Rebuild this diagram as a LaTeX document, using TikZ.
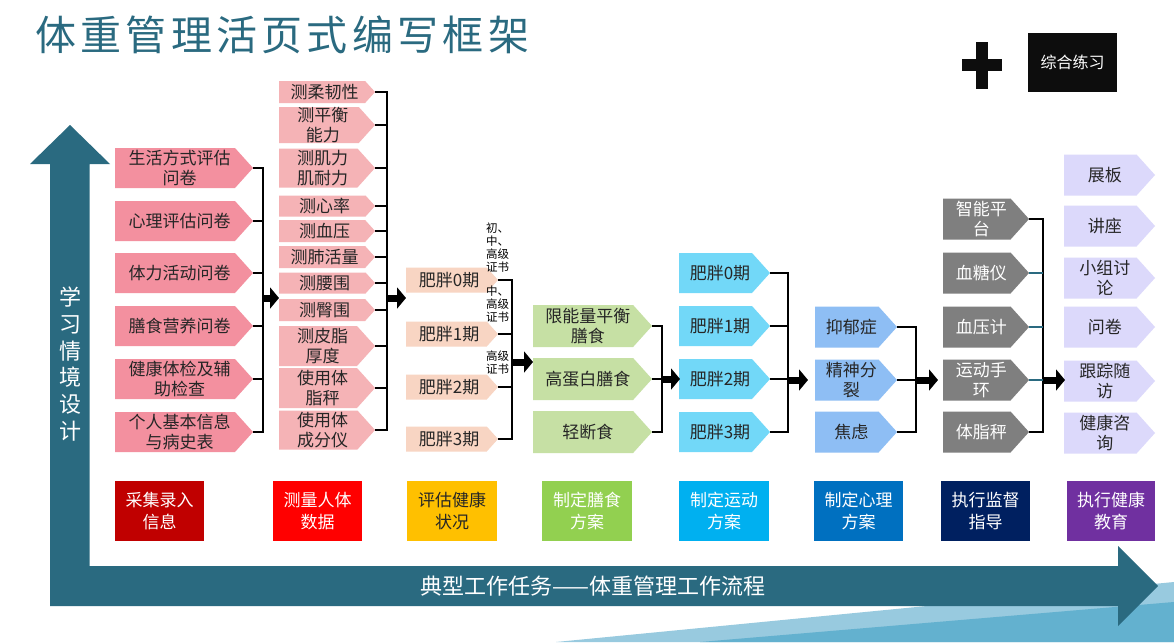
\documentclass[tikz,border=0pt]{standalone}
\usepackage{fontspec}
\setmainfont{Noto Sans CJK SC}
\usetikzlibrary{arrows.meta}
\definecolor{teal1}{HTML}{2A6A80}
\definecolor{ca}{HTML}{F3909F}
\definecolor{cb}{HTML}{F5B3B6}
\definecolor{cc}{HTML}{F8D5C3}
\definecolor{cd}{HTML}{C6E0A4}
\definecolor{ce}{HTML}{72D8F8}
\definecolor{cf}{HTML}{8EBEF4}
\definecolor{cg}{HTML}{7F7F7F}
\definecolor{ch}{HTML}{DCD9FB}
\definecolor{txt}{HTML}{262626}
\definecolor{deco1}{HTML}{98CADF}
\definecolor{deco2}{HTML}{63B1CF}
\definecolor{l1}{HTML}{C00000}
\definecolor{l2}{HTML}{FF0000}
\definecolor{l3}{HTML}{FFC000}
\definecolor{l4}{HTML}{92D050}
\definecolor{l5}{HTML}{00B0F0}
\definecolor{l6}{HTML}{0070C0}
\definecolor{l7}{HTML}{002060}
\definecolor{l8}{HTML}{7030A0}
\newcommand\chev[8]{%
  \pgfmathsetmacro\chvd{#5/2*0.9}%
  \fill[#6] (#2,#4-#5/2) -- (#3-\chvd,#4-#5/2) -- (#3,#4) -- (#3-\chvd,#4+#5/2) -- (#2,#4+#5/2) -- cycle;
  \node[boxtext,text=#7] (#1) at ({(#2+#3-\chvd/2)/2},#4) {#8};
  \coordinate (#1-t) at (#3,#4);
}
\tikzset{
  boxtext/.style={align=center,inner sep=0pt,font=\fontsize{17}{20}\selectfont},
  brk/.style={line width=2.5pt,black,line join=miter},
  barrow/.style={line width=7pt,black,-{Triangle[length=9pt,width=21pt]}},
  lab/.style={align=center,inner sep=0pt,minimum height=60pt,font=\fontsize{17}{22}\selectfont,text=white},
  small/.style={align=left,inner sep=0pt,anchor=north west,font=\fontsize{11.5}{13}\selectfont,text=black}
}
\begin{document}
\begin{tikzpicture}[x=1pt,y=-1pt]
\useasboundingbox (0,0) rectangle (1174,642);
\fill[white] (0,0) rectangle (1174,642);
% decoration bottom right
\fill[deco1] (556,642) -- (1174,582) -- (1174,642) -- cycle;
\fill[deco2] (700,642) -- (1174,602) -- (1174,642) -- cycle;
% title
\node[anchor=west,inner sep=0pt,text=teal1,font=\fontsize{41}{41}\selectfont] (title) at (35,35)
 {体\kern4.3pt 重\kern4.3pt 管\kern4.3pt 理\kern4.3pt 活\kern4.3pt 页\kern4.3pt 式\kern4.3pt 编\kern4.3pt 写\kern4.3pt 框\kern4.3pt 架};
% plus and box
\fill[black!95] (962,59) rectangle (1002,71);
\fill[black!95] (976,42) rectangle (988,89);
\node[fill=black!95,minimum width=89pt,minimum height=59pt,inner sep=0pt,text=white,font=\fontsize{16}{16}\selectfont] (zh) at (1072.5,62.5) {综合练习};
% L arrow
\fill[teal1] (50,606) -- (50,164) -- (30,164) -- (70,125) -- (110,164) -- (89.5,164) -- (89.5,566)
  -- (1118,566) -- (1118,546) -- (1158,586) -- (1118,626) -- (1118,606) -- cycle;
\node[align=center,inner sep=0pt,text=white,font=\fontsize{22}{26.8}\selectfont] (vt) at (70,364) {学\\习\\情\\境\\设\\计};
\node[inner sep=0pt,text=white,font=\fontsize{22}{22}\selectfont] (ht) at (593,586) {典型工作任务——体重管理工作流程};
% column 1
\chev{c1a}{115}{253}{168}{40}{ca}{txt}{生活方式评估\\问卷}
\chev{c1b}{115}{253}{221}{40}{ca}{txt}{心理评估问卷}
\chev{c1c}{115}{253}{273}{40}{ca}{txt}{体力活动问卷}
\chev{c1d}{115}{253}{326}{40}{ca}{txt}{膳食营养问卷}
\chev{c1e}{115}{253}{379}{40}{ca}{txt}{健康体检及辅\\助检查}
\chev{c1f}{115}{253}{432}{40}{ca}{txt}{个人基本信息\\与病史表}
% column 2
\chev{c2a}{279}{375}{92}{22}{cb}{txt}{测柔韧性}
\chev{c2b}{279}{375}{125}{36}{cb}{txt}{测平衡\\能力}
\chev{c2c}{279}{375}{168}{39}{cb}{txt}{测肌力\\肌耐力}
\chev{c2d}{279}{375}{206}{21}{cb}{txt}{测心率}
\chev{c2e}{279}{375}{231}{22}{cb}{txt}{测血压}
\chev{c2f}{279}{375}{257}{22}{cb}{txt}{测肺活量}
\chev{c2g}{279}{375}{283}{21}{cb}{txt}{测腰围}
\chev{c2h}{279}{375}{310}{22}{cb}{txt}{测臀围}
\chev{c2i}{279}{375}{346}{40}{cb}{txt}{测皮脂\\厚度}
\chev{c2j}{279}{375}{388}{40}{cb}{txt}{使用体\\脂秤}
\chev{c2k}{279}{375}{430}{39}{cb}{txt}{使用体\\成分仪}
% column 3
\chev{c3a}{406}{498}{280}{25}{cc}{txt}{肥胖0期}
\chev{c3b}{406}{498}{334}{25}{cc}{txt}{肥胖1期}
\chev{c3c}{406}{498}{387}{25}{cc}{txt}{肥胖2期}
\chev{c3d}{406}{498}{439}{25}{cc}{txt}{肥胖3期}
\node[small] (s1) at (486,223) {初、\\中、\\高级\\证书};
\node[small] (s2) at (486,286) {中、\\高级\\证书};
\node[small] (s3) at (486,351) {高级\\证书};
% column 4
\chev{c4a}{533}{652}{326}{42}{cd}{txt}{限能量平衡\\膳食}
\chev{c4b}{533}{652}{379}{42}{cd}{txt}{高蛋白膳食}
\chev{c4c}{533}{652}{432}{42}{cd}{txt}{轻断食}
% column 5
\chev{c5a}{679}{770}{273}{40}{ce}{txt}{肥胖0期}
\chev{c5b}{679}{770}{326}{40}{ce}{txt}{肥胖1期}
\chev{c5c}{679}{770}{379}{40}{ce}{txt}{肥胖2期}
\chev{c5d}{679}{770}{432}{40}{ce}{txt}{肥胖3期}
% column 6
\chev{c6a}{815}{897}{327}{41}{cf}{txt}{抑郁症}
\chev{c6b}{815}{897}{380}{41}{cf}{txt}{精神分\\裂}
\chev{c6c}{815}{897}{432}{41}{cf}{txt}{焦虑}
% column 7
\chev{c7a}{943}{1029}{219}{41}{cg}{white}{智能平\\台}
\chev{c7b}{943}{1029}{273}{41}{cg}{white}{血糖仪}
\chev{c7c}{943}{1029}{327}{41}{cg}{white}{血压计}
\chev{c7d}{943}{1029}{380}{41}{cg}{white}{运动手\\环}
\chev{c7e}{943}{1029}{432}{41}{cg}{white}{体脂秤}
% column 8
\chev{c8a}{1064}{1155}{175}{41}{ch}{txt}{展板}
\chev{c8b}{1064}{1155}{226}{41}{ch}{txt}{讲座}
\chev{c8c}{1064}{1155}{278}{41}{ch}{txt}{小组讨\\论}
\chev{c8d}{1064}{1155}{327}{41}{ch}{txt}{问卷}
\chev{c8e}{1064}{1155}{381}{41}{ch}{txt}{跟踪随\\访}
\chev{c8f}{1064}{1155}{433}{41}{ch}{txt}{健康咨\\询}
% bracket coordinates
\coordinate (k1) at (263,0);
\coordinate (k2) at (387,0);
\coordinate (k3) at (512,0);
\coordinate (k4) at (662,0);
\coordinate (k5) at (788,0);
\coordinate (k6) at (916,0);
\coordinate (k7) at (1043,0);
% brackets
\draw[brk] (c1a-t) -| (k1 |- c1f-t) -- (c1f-t);
\foreach \n in {c1b,c1c,c1d,c1e} \draw[brk] (\n-t) -- (\n-t -| k1);
\draw[brk] (c2a-t) -| (k2 |- c2k-t) -- (c2k-t);
\foreach \n in {c2b,c2c,c2d,c2e,c2f,c2g,c2h,c2i,c2j} \draw[brk] (\n-t) -- (\n-t -| k2);
\draw[brk] (c3a-t) -| (k3 |- c3d-t) -- (c3d-t);
\foreach \n in {c3b,c3c} \draw[brk] (\n-t) -- (\n-t -| k3);
\draw[brk] (c4a-t) -| (k4 |- c4c-t) -- (c4c-t);
\draw[brk] (c4b-t) -- (c4b-t -| k4);
\draw[brk] (c5a-t) -| (k5 |- c5d-t) -- (c5d-t);
\foreach \n in {c5b,c5c} \draw[brk] (\n-t) -- (\n-t -| k5);
\draw[brk] (c6a-t) -| (k6 |- c6c-t) -- (c6c-t);
\draw[brk] (c6b-t) -- (c6b-t -| k6);
\draw[brk] (c7a-t) -| (k7 |- c7e-t) -- (c7e-t);
\foreach \n in {c7b,c7c,c7d} \draw[line width=2pt,teal1] (\n-t) -- (\n-t -| k7);
% arrows
\coordinate (a1s) at (263,298); \coordinate (a1e) at (279,298);
\coordinate (a2s) at (387,298); \coordinate (a2e) at (406,298);
\coordinate (a3s) at (512,362); \coordinate (a3e) at (533,362);
\coordinate (a4s) at (662,379); \coordinate (a4e) at (680,379);
\coordinate (a5s) at (788,380); \coordinate (a5e) at (808,380);
\coordinate (a6s) at (916,380); \coordinate (a6e) at (938,380);
\coordinate (a7s) at (1043,380); \coordinate (a7e) at (1065,380);
\foreach \i in {1,...,7} \draw[barrow] (a\i s) -- (a\i e);
% bottom labels
\node[lab,fill=l1,minimum width=89pt] (b1) at (159.5,511) {采集录入\\信息};
\node[lab,fill=l2,minimum width=89pt] (b2) at (317.5,511) {测量人体\\数据};
\node[lab,fill=l3,minimum width=90pt,text=txt] (b3) at (452,511) {评估健康\\状况};
\node[lab,fill=l4,minimum width=90pt] (b4) at (587,511) {制定膳食\\方案};
\node[lab,fill=l5,minimum width=90pt] (b5) at (724,511) {制定运动\\方案};
\node[lab,fill=l6,minimum width=89pt] (b6) at (858.5,511) {制定心理\\方案};
\node[lab,fill=l7,minimum width=89pt] (b7) at (985.5,511) {执行监督\\指导};
\node[lab,fill=l8,minimum width=88pt] (b8) at (1111,511) {执行健康\\教育};
\end{tikzpicture}
\end{document}
